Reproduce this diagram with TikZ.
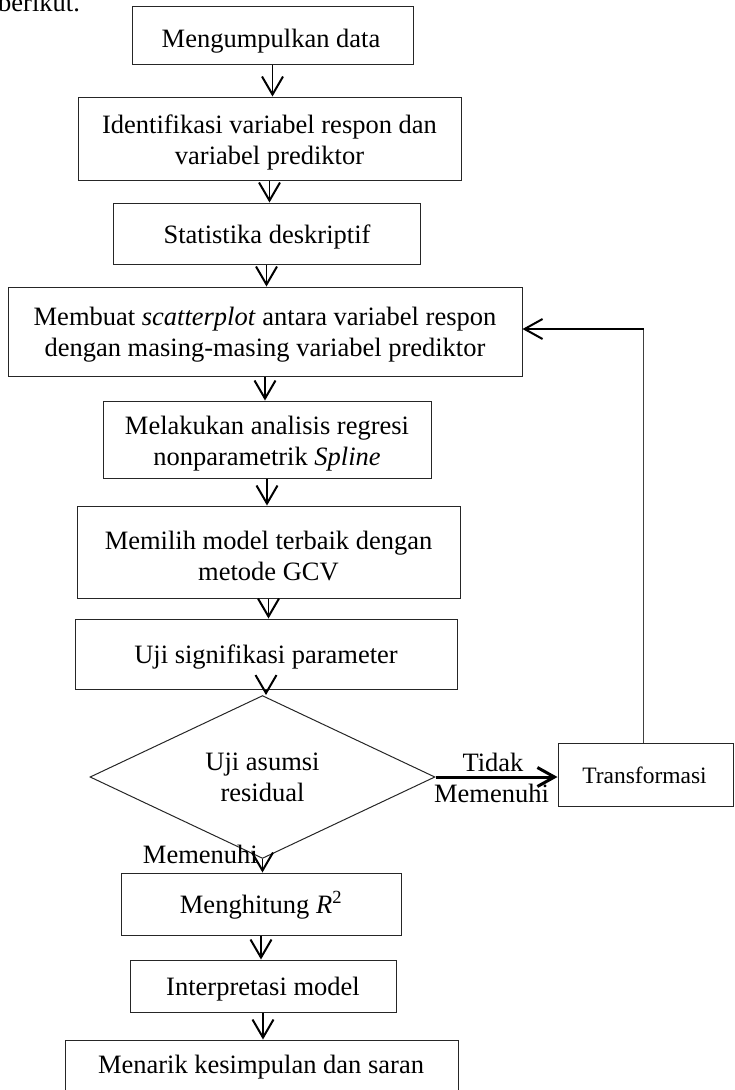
\documentclass[tikz,border=0pt]{standalone}
\usepackage{fontspec}
\setmainfont{Liberation Serif}
\usetikzlibrary{arrows.meta,shapes.geometric}
\begin{document}
\begin{tikzpicture}[x=1pt,y=-1pt,
  box/.style={draw=black!85, line width=1pt, rectangle, inner sep=0pt},
  txt/.style={inner sep=0pt, align=center, font=\fontsize{26.5}{31}\selectfont},
  smalltxt/.style={inner sep=0pt, align=center, font=\fontsize{23.5}{28}\selectfont},
  arr/.style={line width=1.8pt, -{Straight Barb[length=18pt,width=21pt,line width=2pt]}},
  arrthick/.style={line width=3pt, -{Straight Barb[length=17pt,width=19pt,line width=3pt]}},
  fbline/.style={line width=1pt, draw=black!75},
  fb/.style={line width=1.8pt, -{Straight Barb[length=18pt,width=20pt,line width=2pt]}}]
\useasboundingbox (0,0) rectangle (734,1090);

\node[txt, anchor=base west] (intro) at (-2,11) {berikut.};

% boxes
\node[box, minimum width=281pt, minimum height=58pt] (b1) at (272.5,35) {};
\node[txt, anchor=base] (t1) at (271,47) {Mengumpulkan data};

\node[box, minimum width=383pt, minimum height=83pt] (b2) at (269.5,138.5) {};
\node[txt] (t2) at (269.5,142.5) {Identifikasi variabel respon dan\\variabel prediktor};

\node[box, minimum width=307pt, minimum height=61pt] (b3) at (266.5,233.5) {};
\node[txt, anchor=base] (t3) at (267,243) {Statistika deskriptif};

\node[box, minimum width=514pt, minimum height=89pt] (b4) at (265,331.5) {};
\node[txt] (t4) at (265,334.5) {Membuat \textit{scatterplot} antara variabel respon\\dengan masing-masing variabel prediktor};

\node[box, minimum width=328pt, minimum height=77pt] (b5) at (267,439.5) {};
\node[txt] (t5) at (267,444) {Melakukan analisis regresi\\nonparametrik \textit{Spline}};

\node[box, minimum width=383pt, minimum height=92pt] (b6) at (268.5,552) {};
\node[txt] (t6) at (268.5,555.5) {Memilih model terbaik dengan\\metode GCV};

\node[box, minimum width=382pt, minimum height=70pt] (b7) at (266,654) {};
\node[txt, anchor=base] (t7) at (266,663) {Uji signifikasi parameter};

\node[box, diamond, minimum width=345pt, minimum height=132pt, txt, draw=black!85, line width=1pt] (dia) at (262.5,777) {Uji asumsi\\residual};

\node[box, minimum width=175pt, minimum height=63pt] (tr) at (645.5,774.5) {};
\node[smalltxt, anchor=base] (ttr) at (644.5,783) {Transformasi};

\node[box, minimum width=280pt, minimum height=62pt] (b8) at (261,904) {};
\node[txt, anchor=base] (t8) at (261,913) {Menghitung \textit{R}\textsuperscript{2}};

\node[box, minimum width=266pt, minimum height=52pt] (b9) at (263,986) {};
\node[txt, anchor=base] (t9) at (263,995) {Interpretasi model};

\node[box, minimum width=393pt, minimum height=56pt] (b10) at (261.5,1068) {};
\node[txt, anchor=base] (t10) at (261,1073) {Menarik kesimpulan dan saran};

% labels
\node[txt, anchor=base] (ltidak) at (493,771) {Tidak};
\node[txt, anchor=base] (lmem1) at (491.5,802) {Memenuhi};
\node[txt, anchor=base east] (lmem2) at (258,863) {Memenuhi};

% connectors
\draw[arr] (b1.south) -- (b1.south |- b2.north);
\draw[arr] (b2.south) -- (b2.south |- b3.north);
\draw[arr] (b3.south) -- (b3.south |- b4.north);
\draw[arr] (b4.south) -- (b4.south |- b5.north);
\draw[arr] (b5.south) -- (b5.south |- b6.north);
\draw[arr] (b6.south) -- (b6.south |- b7.north);
\draw[arr] (b7.south) -- (b7.south |- dia.north);
\draw[arr] (dia.south) -- (dia.south |- b8.north);
\draw[arr] (b8.south) -- (b8.south |- b9.north);
\draw[arr] (b9.south) -- (b9.south |- b10.north);
\draw[arrthick] (dia.east) -- (dia.east -| tr.west);
\coordinate (fbtop) at ([xshift=-2.5pt]tr.north);
\coordinate (fbin) at ([yshift=2.5pt]b4.east);
\coordinate (corner) at (fbtop |- fbin);
\draw[fbline] (fbtop) -- (corner);
\draw[fb] ([xshift=0.5pt]corner) -- (fbin);
\end{tikzpicture}
\end{document}
